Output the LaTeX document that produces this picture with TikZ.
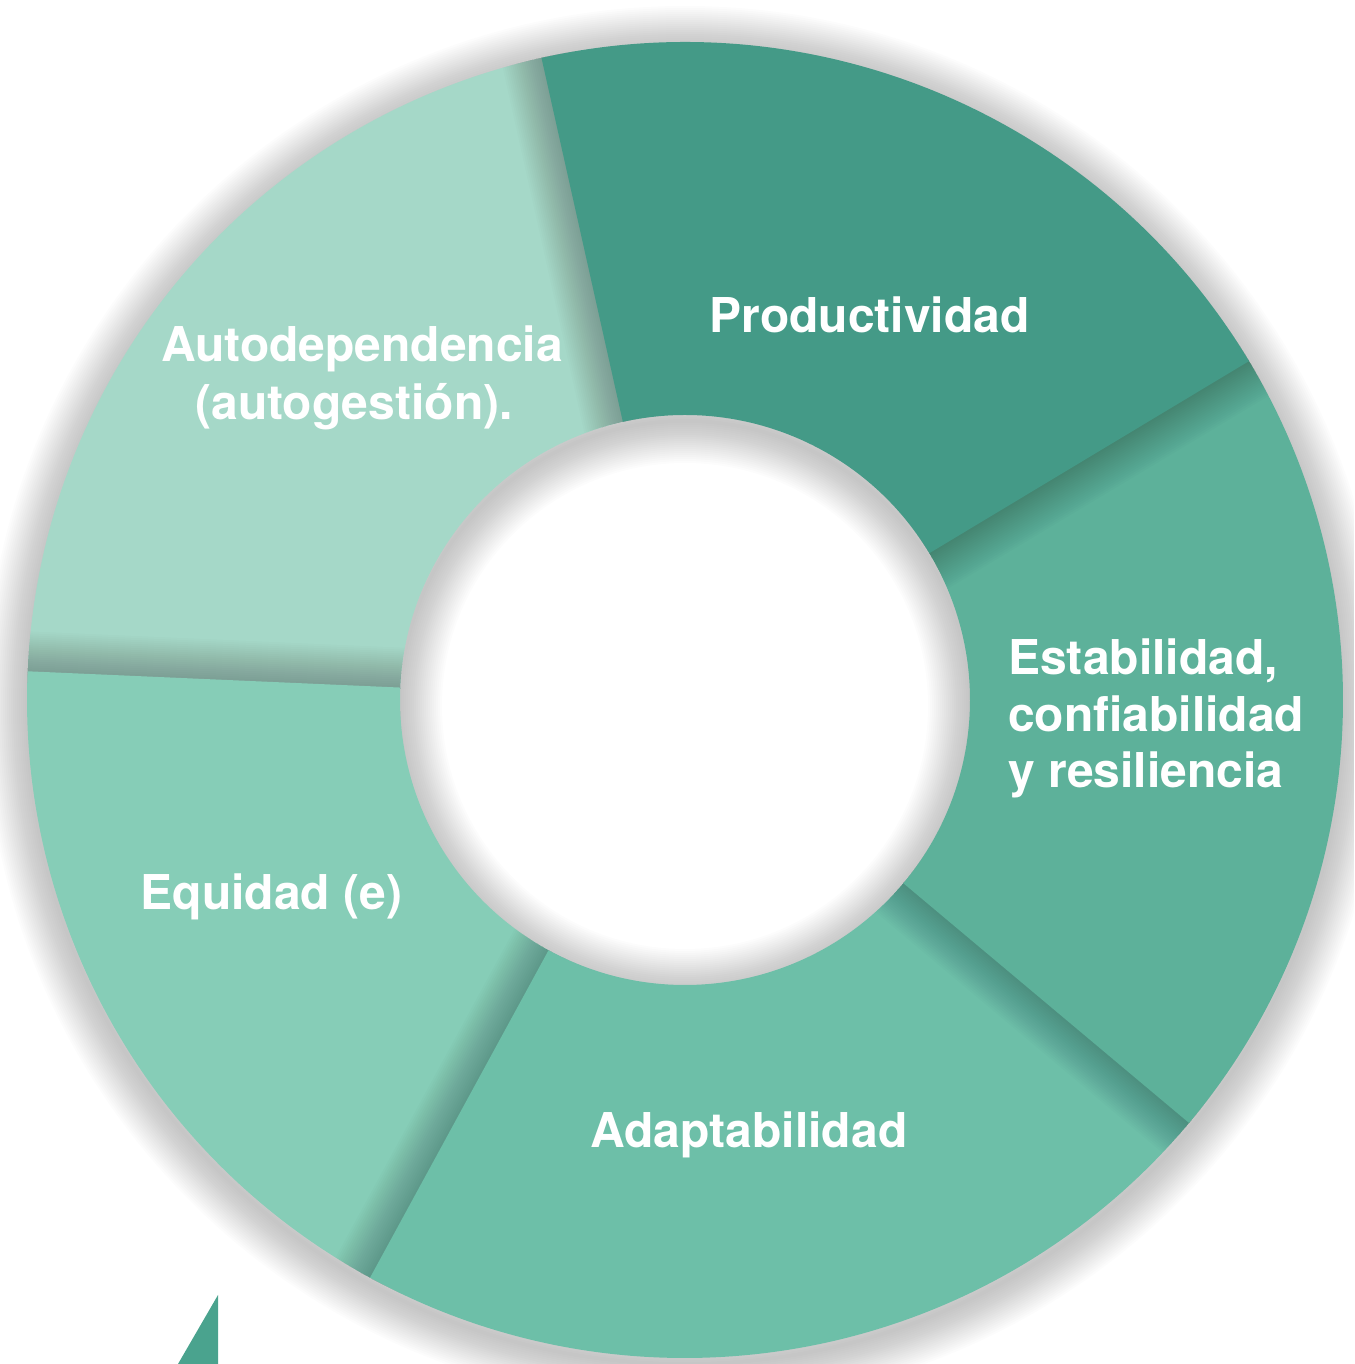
\documentclass[tikz,border=0pt]{standalone}
\usepackage{fontspec}
\setmainfont{TeX Gyre Heros}
\definecolor{cProd}{HTML}{449A87}
\definecolor{cEst}{HTML}{5DB19A}
\definecolor{cAdap}{HTML}{6DBFA8}
\definecolor{cEq}{HTML}{86CDB7}
\definecolor{cAuto}{HTML}{A5D8C8}
\definecolor{cTri}{HTML}{4AA38E}
\tikzset{shd/.style={black,opacity=0.012,line width=#1}}
% edge shadow of a radial boundary, kept inside the ring
\newcommand\edgeshadow[1]{%
  \begin{scope}[even odd rule]
    \clip (0,0) circle[radius=658] (0,0) circle[radius=285];
    \foreach \w in {4,8,...,80}{%
      \draw[shd=\w pt] (#1:270) -- (#1:680);}
  \end{scope}}
\newcommand\donutseg[3]{%
  \fill[#3] (#1:658) arc[start angle=#1,end angle=#2,radius=658] -- (#2:285)
      arc[start angle=#2,end angle=#1,radius=285] -- cycle;}
\begin{document}
\begin{tikzpicture}[x=1pt,y=1pt,
  lbl/.style={text=white,font=\bfseries\fontsize{48}{57}\selectfont,inner sep=0pt}]
\useasboundingbox (0,0) rectangle (1354,1364);
\clip (0,0) rectangle (1354,1364);
\begin{scope}[shift={(685,664)}]
  % soft shadow of the whole ring
  \foreach \w in {4,8,...,84}{%
    \draw[shd=\w pt,yshift=-6pt] (0,0) circle[radius=658];
    \draw[shd=\w pt,yshift=-6pt] (0,0) circle[radius=285];}
  \donutseg{102.5}{177.6}{cAuto}
  \edgeshadow{177.5}
  \donutseg{177.5}{241.5}{cEq}
  \edgeshadow{241.4}
  \donutseg{241.4}{320.1}{cAdap}
  \edgeshadow{320}
  \donutseg{320}{391.1}{cEst}
  \edgeshadow{31}\edgeshadow{102.6}
  \donutseg{31}{102.6}{cProd}
\end{scope}
\fill[cTri] (218,69) -- (178,0) -- (218,0) -- cycle;
\node[lbl,anchor=base] (prod) at (869.5,1031) {Productividad};
\node[lbl,anchor=base] (auto1) at (362,1002) {Autodependencia};
\node[lbl,anchor=base] (auto2) at (354,944) {(autogestión).};
\node[lbl,anchor=base west] (est1) at (1008,689) {Estabilidad,};
\node[lbl,anchor=base west] (est2) at (1008,632) {confiabilidad};
\node[lbl,anchor=base west] (est3) at (1008,576) {y resiliencia};
\node[lbl,anchor=base] (eq) at (271.5,454) {Equidad (e)};
\node[lbl,anchor=base] (adap) at (749,216) {Adaptabilidad};
\end{tikzpicture}
\end{document}
